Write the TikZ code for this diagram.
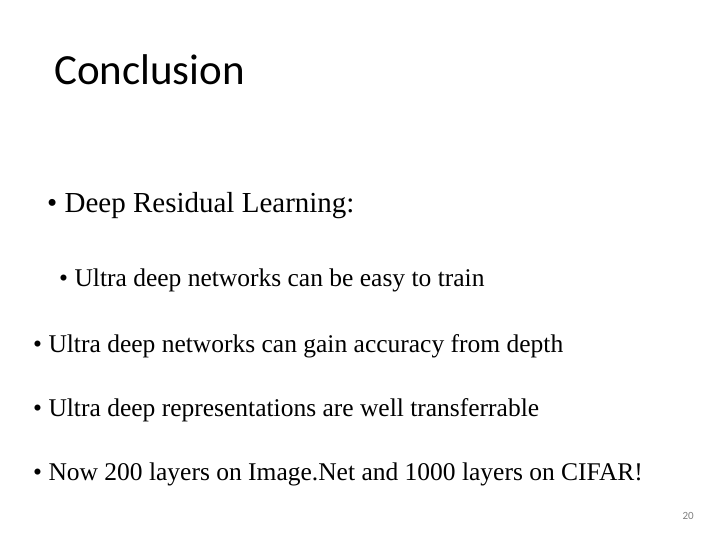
\documentclass[tikz,border=0pt]{standalone}
\usepackage{fontspec}
\setmainfont{Liberation Serif}
\newfontfamily\titlefont{Carlito}
\begin{document}
\begin{tikzpicture}[x=1pt,y=1pt,
  txt/.style={anchor=base west,inner sep=0pt,font=\fontsize{25.5}{30}\selectfont}]
\useasboundingbox (0,0) rectangle (720,540);
\fill[white] (0,0) rectangle (720,540);
\node[anchor=base west,inner sep=0pt,font=\titlefont\fontsize{43}{50}\selectfont] (t) at (54,455) {Conclusion};
\node[anchor=base west,inner sep=0pt,font=\fontsize{29}{34}\selectfont] (b1) at (47,327) {• Deep Residual Learning:};
\node[txt] (b2) at (59,253) {• Ultra deep networks can be easy to train};
\node[txt] (b3) at (33,187) {• Ultra deep networks can gain accuracy from depth};
\node[txt] (b4) at (33,123) {• Ultra deep representations are well transferrable};
\node[txt] (b5) at (33,59) {• Now 200 layers on Image.Net and 1000 layers on CIFAR!};
\node[anchor=base east,inner sep=0pt,text=gray,font=\titlefont\fontsize{11}{13}\selectfont] (pg) at (694,20) {20};
\end{tikzpicture}
\end{document}
